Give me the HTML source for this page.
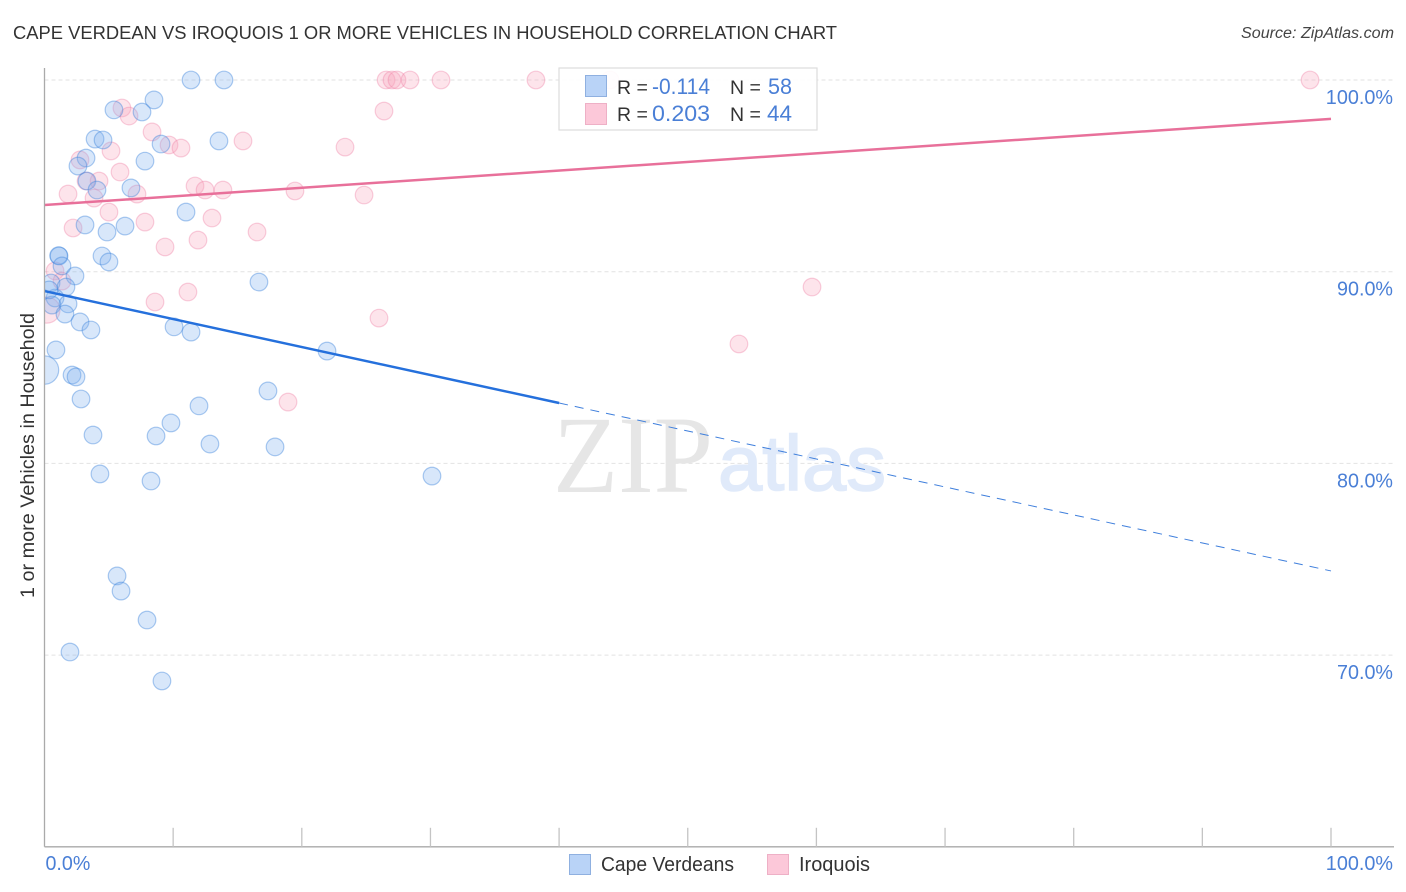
<!DOCTYPE html>
<html lang="en">
<head>
<meta charset="utf-8">
<title>Cape Verdean vs Iroquois 1 or More Vehicles in Household Correlation Chart</title>
<style>
html,body{margin:0;padding:0;background:#fff;width:1406px;height:892px;overflow:hidden}
svg{display:block;font-family:"Liberation Sans",sans-serif}
</style>
</head>
<body>
<svg id="chart" xmlns="http://www.w3.org/2000/svg" width="1406" height="892" viewBox="0 0 1406 892">
  <defs><clipPath id="plot-clip"><rect id="plot-clip-rect" x="45" y="40" width="1349" height="806"></rect></clipPath></defs>
  <text x="13" y="39" font-size="18.5" fill="#333" textLength="824" lengthAdjust="spacingAndGlyphs">CAPE VERDEAN VS IROQUOIS 1 OR MORE VEHICLES IN HOUSEHOLD CORRELATION CHART</text>
  <text x="1394" y="38" font-size="15.5" font-style="italic" fill="#444" text-anchor="end" textLength="153" lengthAdjust="spacingAndGlyphs">Source: ZipAtlas.com</text>
  <g id="grid"></g>
  <g>
    <text x="553" y="492" font-family="'Liberation Serif',serif" font-size="110" fill="#e6e6e6" textLength="160" lengthAdjust="spacingAndGlyphs">ZIP</text>
    <text x="718" y="490" font-family="'Liberation Sans',sans-serif" font-size="78" fill="#e0eafa" stroke="#e0eafa" stroke-width="1.6" textLength="168" lengthAdjust="spacingAndGlyphs">atlas</text>
  </g>
  <g id="pink-points" clip-path="url(#plot-clip)"></g>
  <g id="blue-points" clip-path="url(#plot-clip)"></g>
  <g id="trends"></g>
  <g id="axes"></g>
  <text transform="translate(34,598) rotate(-90)" font-size="19" fill="#333" textLength="285" lengthAdjust="spacingAndGlyphs">1 or more Vehicles in Household</text>

  <g>
    <rect x="559" y="68" width="258" height="62" fill="#fff" fill-opacity="0.92" stroke="#ddd" stroke-width="1.2"></rect>
    <rect x="585.5" y="75.5" width="21" height="21" fill="#b9d3f7" stroke="#8fb0e0"></rect>
    <rect x="585.5" y="103.5" width="21" height="21" fill="#fcc8d9" stroke="#eeb0c6"></rect>
    <text x="617" y="94" font-size="19.5" fill="#333">R =</text>
    <text x="652" y="94" font-size="22" fill="#4a7fd6" textLength="58" lengthAdjust="spacingAndGlyphs">-0.114</text>
    <text x="730" y="94" font-size="19.5" fill="#333">N =</text>
    <text x="768" y="94" font-size="22" fill="#4a7fd6" textLength="24" lengthAdjust="spacingAndGlyphs">58</text>
    <text x="617" y="121" font-size="19.5" fill="#333">R =</text>
    <text x="652" y="121" font-size="22" fill="#4a7fd6" textLength="58" lengthAdjust="spacingAndGlyphs">0.203</text>
    <text x="730" y="121" font-size="19.5" fill="#333">N =</text>
    <text x="767" y="121" font-size="22" fill="#4a7fd6" textLength="25" lengthAdjust="spacingAndGlyphs">44</text>
  </g>

  <g>
    <rect x="569.5" y="854.5" width="21" height="20" fill="#b9d3f7" stroke="#8fb0e0"></rect>
    <text x="601" y="871" font-size="20" fill="#333" textLength="133" lengthAdjust="spacingAndGlyphs">Cape Verdeans</text>
    <rect x="767.5" y="854.5" width="21" height="20" fill="#fcc8d9" stroke="#eeb0c6"></rect>
    <text x="799" y="871" font-size="20" fill="#333" textLength="71" lengthAdjust="spacingAndGlyphs">Iroquois</text>
  </g>
</svg>
<script>
const blueX = [11.39,13.95,8.51,5.40,7.58,3.93,4.55,13.56,9.06,7.81,3.23,2.60,3.30,4.08,6.72,11.0,3.15,6.26,4.86,1.13,1.10,4.47,5.01,1.36,2.37,16.67,0.51,1.67,0.82,1.83,0.58,1.59,2.76,3.61,10.07,11.39,21.96,0.89,0.0,2.14,2.45,17.37,2.84,12.01,9.83,3.77,8.67,12.86,17.92,4.31,8.28,30.12,5.64,5.95,7.97,1.98,9.13,0.35];
const blueY = [100,100,98.96,98.44,98.33,96.92,96.87,96.82,96.66,95.77,95.93,95.51,94.73,94.26,94.37,93.11,92.44,92.38,92.07,90.82,90.84,90.82,90.51,90.30,89.78,89.46,89.41,89.20,88.63,88.32,88.26,87.79,87.38,86.96,87.12,86.85,85.86,85.92,84.87,84.61,84.51,83.78,83.36,83.0,82.11,81.48,81.43,81.01,80.86,79.45,79.08,79.34,74.13,73.34,71.83,70.16,68.65,89.05];
const blueWeight = [1,1,1,1,1,1,1,1,1,1,1,1,1,1,1,1,1,1,1,1,1,1,1,1,1,1,1,1,1,1,1,1,1,1,1,1,1,1,2.6,1,1,1,1,1,1,1,1,1,1,1,1,1,1,1,1,1,1,1];
const pinkX = [26.55,27.01,27.4,28.41,30.82,38.2,43.96,98.37,6.02,6.57,26.39,8.36,5.17,9.68,10.61,15.43,23.36,5.87,2.76,4.24,3.23,1.83,7.19,3.85,11.7,12.48,13.87,19.47,24.84,5.01,7.81,13.02,2.22,16.52,11.93,9.37,0.82,1.36,8.59,11.15,59.66,26.0,53.98,18.93,0.19];
const pinkY = [100,100,100,100,100,100,100,100,98.54,98.12,98.38,97.29,96.30,96.61,96.45,96.82,96.5,95.2,95.83,94.73,94.73,94.05,94.05,93.84,94.47,94.26,94.26,94.21,94.0,93.11,92.59,92.8,92.28,92.07,91.65,91.29,90.04,89.51,88.42,88.94,89.2,87.58,86.23,83.2,88.0];
const pinkWeight = [1,1,1,1,1,1,1,1,1,1,1,1,1,1,1,1,1,1,1,1,1,1,1,1,1,1,1,1,1,1,1,1,1,1,1,1,1,1,1,1,1,1,1,1,2.2];
const blueTrendX = [0,40,100];
const blueTrendY = [88.99,83.15,74.39];
const pinkTrendX = [0,100];
const pinkTrendY = [93.48,97.97];
const yTicks = [100,90,80,70];
const yTickLabels = ['100.0%','90.0%','80.0%','70.0%'];
const xTicks = [10,20,30,40,50,60,70,80,90,100];
const xEndTicks = [0,100];
const xEndLabels = ['0.0%','100.0%'];

const NS = 'http://www.w3.org/2000/svg';
const xScale = v => 44.5 + v * 12.865;
const yScale = v => 80 + (100 - v) * 19.17;
const rScale = w => 8.8 * Math.sqrt(w);

function make(tag, attrs, parent) {
  const el = document.createElementNS(NS, tag);
  for (const k in attrs) el.setAttribute(k, attrs[k]);
  parent.appendChild(el);
  return el;
}

const grid = document.getElementById('grid');
yTicks.forEach(t => {
  const g = make('line', {x1: xScale(0), x2: 1394, y1: yScale(t), y2: yScale(t), stroke: '#e2e2e2', 'stroke-width': 1, 'stroke-dasharray': '4 3'}, grid);
  
  
});

const axes = document.getElementById('axes');
const yLine = make('line', {x1: xScale(0), x2: xScale(0), y1: 68, y2: yScale(60), stroke: '#aaa', 'stroke-width': 1.3}, axes);


const xLine = make('line', {x1: xScale(0), x2: 1394, y1: yScale(60), y2: yScale(60), stroke: '#aaa', 'stroke-width': 1.3}, axes);


xTicks.forEach(t => {
  const k = make('line', {x1: xScale(t), x2: xScale(t), y1: yScale(60) - 19, y2: yScale(60), stroke: '#c4c4c4', 'stroke-width': 1.3}, axes);
  
  
});
yTicks.forEach((t, i) => {
  const l = make('text', {x: 1393, y: yScale(t) + 24, 'text-anchor': 'end', 'font-size': 20, fill: '#4a7fd6', textLength: yTickLabels[i].length * 11.2, lengthAdjust: 'spacingAndGlyphs'}, axes);
  l.textContent = yTickLabels[i];
  
  
});
xEndTicks.forEach((t, i) => {
  const l = make('text', {x: i === 0 ? xScale(t) + 1 : 1393, y: 870, 'text-anchor': i === 0 ? 'start' : 'end', 'font-size': 20, fill: '#4a7fd6', textLength: xEndLabels[i].length * 11.2, lengthAdjust: 'spacingAndGlyphs'}, axes);
  l.textContent = xEndLabels[i];
  
  
});

function drawPoints(groupId, xs, ys, ws, fill, stroke, name) {
  const g = document.getElementById(groupId);
  xs.forEach((x, i) => {
    const c = make('circle', {cx: xScale(x), cy: yScale(ys[i]), r: rScale(ws[i]), fill: fill, stroke: stroke, 'stroke-width': 1.2}, g);
    
    
  });
}
drawPoints('pink-points', pinkX, pinkY, pinkWeight, 'rgba(248,165,190,0.3)', 'rgba(238,130,165,0.38)', 'iroquois-point');
drawPoints('blue-points', blueX, blueY, blueWeight, 'rgba(125,175,238,0.3)', 'rgba(60,130,220,0.42)', 'cape-verdeans-point');

const trends = document.getElementById('trends');
const blueSolid = make('line', {x1: xScale(blueTrendX[0]), y1: yScale(blueTrendY[0]), x2: xScale(blueTrendX[1]), y2: yScale(blueTrendY[1]), stroke: '#2570dc', 'stroke-width': 2.5}, trends);


const blueDash = make('line', {x1: xScale(blueTrendX[1]), y1: yScale(blueTrendY[1]), x2: xScale(blueTrendX[2]), y2: yScale(blueTrendY[2]), stroke: '#3f7fdc', 'stroke-width': 1, 'stroke-dasharray': '9 7'}, trends);


const pinkLine = make('line', {x1: xScale(pinkTrendX[0]), y1: yScale(pinkTrendY[0]), x2: xScale(pinkTrendX[1]), y2: yScale(pinkTrendY[1]), stroke: '#e8709a', 'stroke-width': 2.5}, trends);


</script>
</body>
</html>
